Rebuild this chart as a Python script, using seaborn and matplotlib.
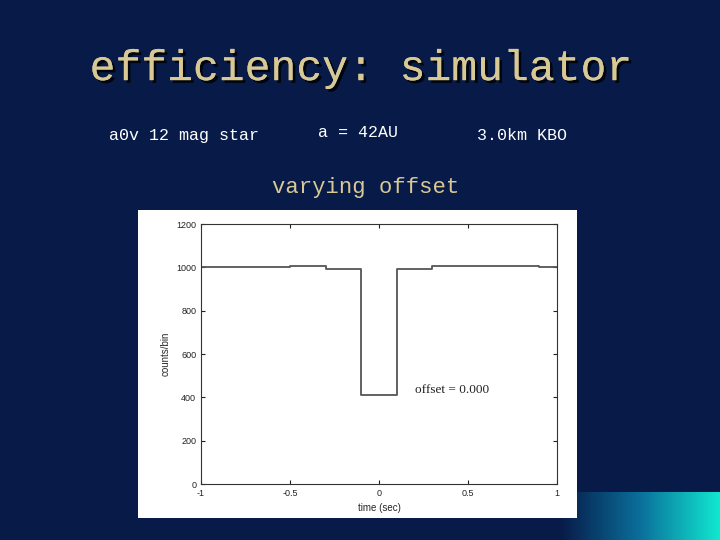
import matplotlib

matplotlib.use("Agg")
import matplotlib.pyplot as plt
import matplotlib.patheffects as pe
import numpy as np
import pandas as pd
import seaborn as sns

# step light curve: bin edges and counts per bin
edges = [-1.0, -0.5, -0.3, -0.1, 0.1, 0.3, 0.5, 0.9, 1.0]
counts = [1002, 1005, 993, 413, 993, 1005, 1004, 1002]
x_ticks = [-1, -0.5, 0, 0.5, 1]
x_labels = ["-1", "-0.5", "0", "0.5", "1"]
y_ticks = [0, 200, 400, 600, 800, 1000, 1200]

BG = "#081a48"
TAN = "#d8c894"

sns.set_style("ticks")
plt.rcParams["font.family"] = ["Liberation Sans", "DejaVu Sans"]

fig = plt.figure(figsize=(7.2, 5.4), dpi=100, facecolor=BG)

# gradient box bottom right
gax = fig.add_axes([560 / 720, 0, 160 / 720, 48 / 540])
grad = np.linspace(0, 1, 256).reshape(1, -1)
cmap = matplotlib.colors.LinearSegmentedColormap.from_list("g", [BG, "#0a6f9a", "#11e8d0"])
gax.imshow(grad, aspect="auto", cmap=cmap, extent=[0, 1, 0, 1])
gax.axis("off")

shadow = [pe.withSimplePatchShadow(offset=(2, -2), shadow_rgbFace="#000000", alpha=0.8), pe.Normal()]
fig.text(0.5, 0.872, "efficiency: simulator", ha="center", va="center", fontsize=31,
         family="Liberation Mono", color=TAN, path_effects=shadow)
for x, y, s in [(0.255, 0.749, "a0v 12 mag star"), (0.497, 0.755, "a = 42AU"),
                (0.725, 0.749, "3.0km KBO")]:
    fig.text(x, y, s, ha="center", va="center", fontsize=12, family="Liberation Mono", color="white")
fig.text(0.508, 0.652, "varying offset", ha="center", va="center", fontsize=16,
         family="Liberation Mono", color=TAN)

# white panel behind the plot
pax = fig.add_axes([138 / 720, 22 / 540, 439 / 720, 308 / 540])
pax.set_facecolor("white")
pax.set_xticks([])
pax.set_yticks([])
for s in pax.spines.values():
    s.set_visible(False)

ax = fig.add_axes([201 / 720, 56 / 540, 356 / 720, 260 / 540])
ax.set_facecolor("white")
df = pd.DataFrame({"time": edges, "counts": counts + [counts[-1]]})
sns.lineplot(data=df, x="time", y="counts", drawstyle="steps-post", color="#555555", lw=1.3, ax=ax)
ax.set_xlim(-1, 1)
ax.set_ylim(0, 1200)
ax.set_xticks(x_ticks, x_labels)
ax.set_yticks(y_ticks)
ax.tick_params(direction="in", length=3, labelsize=6.5, top=True, right=True, colors="#222222")
for s in ax.spines.values():
    s.set_linewidth(0.8)
    s.set_color("#333333")
ax.set_xlabel("time (sec)", fontsize=7, labelpad=4)
ax.set_ylabel("counts/bin", fontsize=7)
ax.text(0.2, 420, "offset = 0.000", fontsize=9.5, family="Liberation Serif", color="#222222")

fig.savefig("out.png", dpi=100, facecolor=BG)
